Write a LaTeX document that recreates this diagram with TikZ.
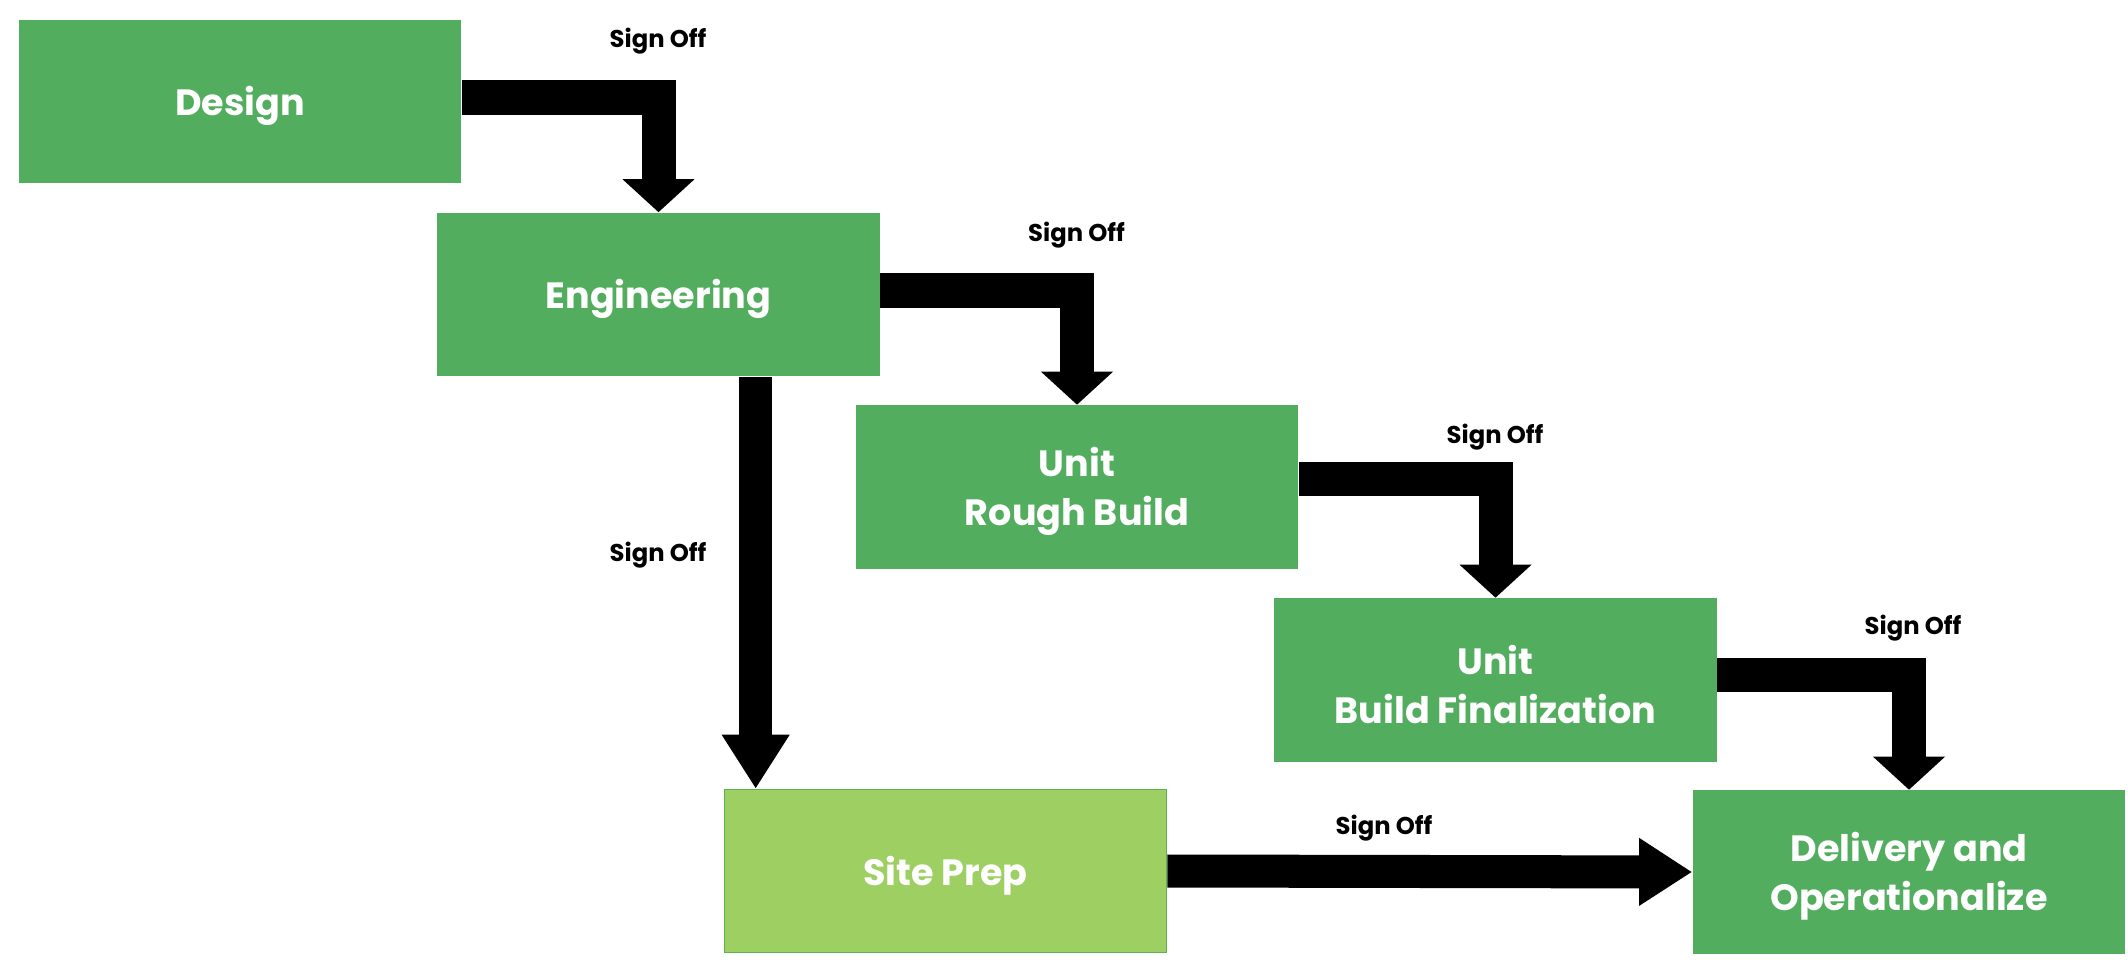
\documentclass[tikz,border=0pt]{standalone}
\usepackage{fontspec}
\setmainfont{Poppins}
\usetikzlibrary{arrows.meta,calc}
\definecolor{boxgreen}{RGB}{82,174,94}
\definecolor{litegreen}{RGB}{158,207,98}
\definecolor{liteedge}{RGB}{92,178,80}
\begin{document}
\begin{tikzpicture}[x=0.01cm,y=-0.01cm,
  stage/.style={fill=boxgreen,draw=none,inner sep=0pt,minimum width=4.42cm,minimum height=1.63cm},
  stagetext/.style={text=white,align=center,inner sep=0pt,yshift=-1.2pt,
    font=\fontsize{10.4}{13.9}\selectfont\bfseries},
  elbow/.style={draw=black,line width=0.34cm,line join=miter,
    -{Triangle[width=0.70cm,length=0.33cm]}},
  straight/.style={draw=black,line width=0.33cm,
    -{Triangle[width=0.64cm,length=0.54cm]}},
  signoff/.style={anchor=base,inner sep=0pt,font=\fontsize{6.9}{9}\selectfont\bfseries,text=black}]
\useasboundingbox (0,0) rectangle (2128,964);

\node[stage,label={[stagetext]center:Design}] (des) at (240,101.5) {};
\node[stage,label={[stagetext]center:Engineering}] (eng) at (658.5,294.5) {};
\node[stage,label={[stagetext]center:Unit\\Rough Build}] (urb) at (1077,487) {};
\node[stage,label={[stagetext]center:Unit\\Build Finalization}] (ubf) at (1495.5,680) {};
\node[stage,fill=litegreen,draw=liteedge,line width=0.4pt,label={[stagetext]center:Site Prep}] (sp) at (945.5,871) {};
\node[stage,minimum width=4.32cm,label={[stagetext]center:Delivery and\\Operationalize}] (del) at (1909,872) {};

\draw[elbow] ($(des.east)+(0,-4)$) -| (eng.north);
\draw[elbow] ($(eng.east)+(0,-4)$) -| (urb.north);
\draw[elbow] ($(urb.east)+(0,-8)$) -| (ubf.north);
\draw[elbow] ($(ubf.east)+(0,-5)$) -| (del.north);
\coordinate (spin) at ($(sp.north west)+(32,0)$);
\draw[straight] (eng.south -| spin) -- (spin);
\draw[straight,-{Triangle[width=0.64cm,length=0.53cm]}] (sp.east) -- (del.west);

\node[signoff] (s1) at (658,48) {Sign Off};
\node[signoff] (s2) at (1076.5,242) {Sign Off};
\node[signoff] (s3) at (1495,443) {Sign Off};
\node[signoff] (s4) at (1913,634) {Sign Off};
\node[signoff] (s5) at (1384,834) {Sign Off};
\node[signoff] (s6) at (658,561) {Sign Off};
\end{tikzpicture}
\end{document}
